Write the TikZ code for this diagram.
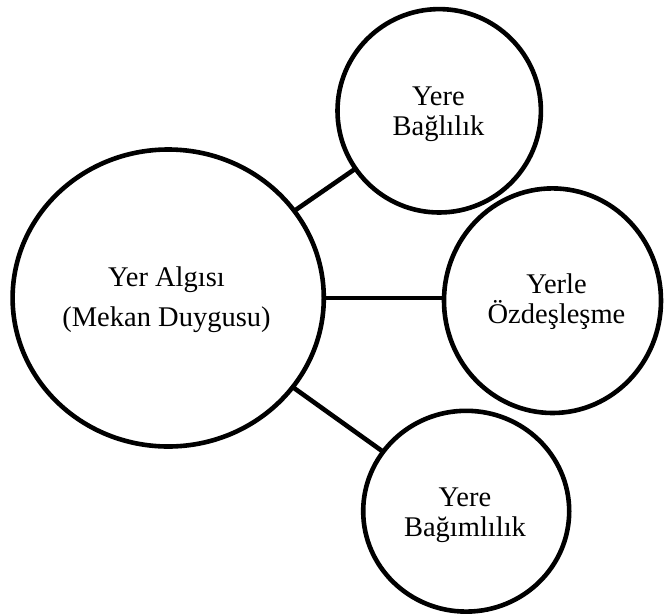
\documentclass[tikz,border=0pt]{standalone}
\usepackage{fontspec}
\setmainfont{Liberation Serif}
\usetikzlibrary{shapes.geometric}
\begin{document}
\begin{tikzpicture}[x=1pt,y=-1pt,
  ring/.style={draw, ellipse, line width=4.6pt, inner sep=0pt, outer sep=0pt},
  link/.style={line width=4.6pt},
  lbl/.style={font=\fontsize{28.5}{30}\selectfont, align=center, inner sep=0pt},
  biglbl/.style={font=\fontsize{28.5}{39.5}\selectfont, align=center, inner sep=0pt}
]
\useasboundingbox (0,0) rectangle (664,614);
\node[ring, minimum width=311.2pt, minimum height=297pt] (big) at (168.2,298) {};
\node[ring, minimum width=203.4pt, minimum height=203.4pt] (top) at (439.2,110.8) {};
\node[ring, minimum width=217pt, minimum height=224.6pt] (mid) at (552.5,300.7) {};
\node[ring, minimum width=206pt, minimum height=200.8pt] (bot) at (466.2,511.2) {};
\node[biglbl] (tbig) at (166.5,299.8) {Yer Algısı\\(Mekan Duygusu)};
\node[lbl] (ttop) at (438.5,114.6) {Yere\\Bağlılık};
\node[lbl] (tmid) at (556.5,301.6) {Yerle\\Özdeşleşme};
\node[lbl] (tbot) at (465,515) {Yere\\Bağımlılık};
\draw[link] (big) -- (top);
\draw[link] (big.east) -- (big.east -| mid.west);
\draw[link] (big) -- (bot);
\end{tikzpicture}
\end{document}
